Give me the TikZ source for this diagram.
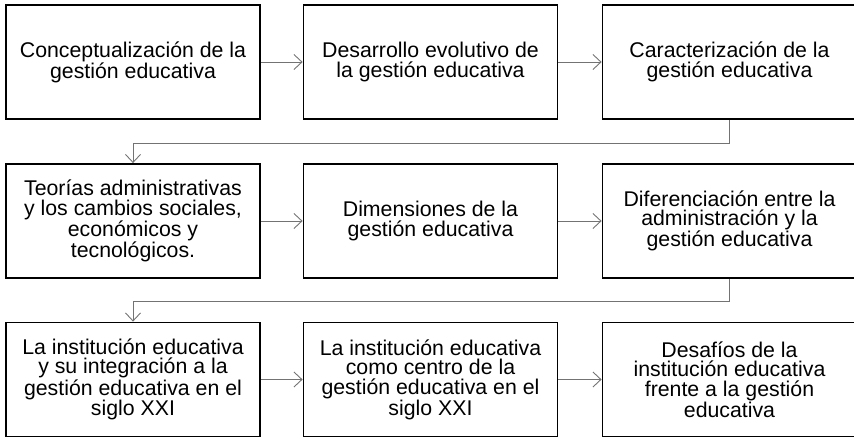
\documentclass[tikz,border=0pt]{standalone}
\usepackage{fontspec}
\setmainfont{Liberation Sans}
\usetikzlibrary{arrows.meta,positioning}
\begin{document}
\begin{tikzpicture}[x=1pt,y=-1pt]
\useasboundingbox (0,0) rectangle (854,438);
\clip (0,0) rectangle (854,438);
\tikzstyle{tbox}=[draw, line width=1.8pt, minimum width=254pt,
  minimum height=114pt, align=center, inner sep=2pt,
  font=\fontsize{21.3}{19.5}\selectfont]
% first row
\node[tbox] (CG) at (133,62) {Conceptualización de la\\gestión educativa};
\node[tbox] (DE) at (430.5,62) {Desarrollo evolutivo de\\la gestión educativa};
\node[tbox] (CA) at (729.5,62) {Caracterización de la\\gestión educativa};
% second row
\node[tbox] (TA) at (133,221) {Teorías administrativas\\y los cambios sociales,\\
  económicos y\\tecnológicos.};
\node[tbox] (DG) at (430.5,221) {Dimensiones de la\\gestión educativa};
\node[tbox] (DA) at (729.5,221) {Diferenciación entre la\\administración y la\\
  gestión educativa};
% third row
\node[tbox] (IE) at (133,379.5) {La institución educativa\\y su integración a la\\
  gestión educativa en el\\siglo XXI};
\node[tbox] (IC) at (430.5,379.5) {La institución educativa\\como centro de la\\
  gestión educativa en el\\siglo XXI};
\node[tbox] (DI) at (729.5,379.5) {Desafíos de la\\institución educativa\\
  frente a la gestión\\educativa};
\tikzstyle{tarrow}=[-{Straight Barb[length=8pt,width=15pt]}, line width=0.9pt, black!55]
\draw[tarrow] (CG) -- (DE);
\draw[tarrow] (DE) -- (CA);
\draw[tarrow] (CA.south) -- ++(0,24) -| (TA.north);
\draw[tarrow] (TA) -- (DG);
\draw[tarrow] (DG) -- (DA);
\draw[tarrow] (DA.south) -- ++(0,23) -| (IE.north);
\draw[tarrow] (IE) -- (IC);
\draw[tarrow] (IC) -- (DI);
\end{tikzpicture}
\end{document}
